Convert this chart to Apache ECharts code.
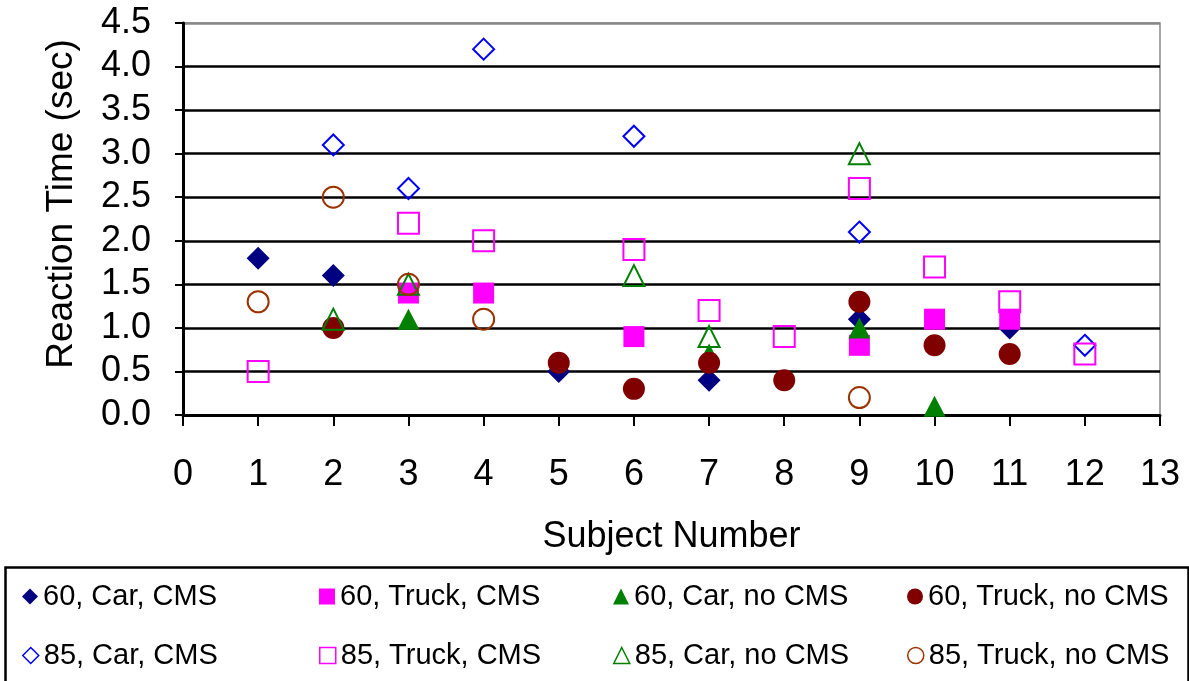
<!DOCTYPE html>
<html>
<head>
<meta charset="utf-8">
<script src="https://cdn.jsdelivr.net/npm/echarts@6/dist/echarts.min.js"></script>
<style>
html,body{margin:0;padding:0;background:#fff;}
#chart{width:1189px;height:681px;}
</style>
</head>
<body>
<div id="chart"></div>
<script>
// ---- data ----
const subjects = [1,2,3,4,5,6,7,8,9,10,11,12];
const seriesNames = ['60, Car, CMS','60, Truck, CMS','60, Car, no CMS','60, Truck, no CMS',
                     '85, Car, CMS','85, Truck, CMS','85, Car, no CMS','85, Truck, no CMS'];
const s60CarCMS     = [1.8,1.6,null,null,0.5,null,0.4,null,1.1,null,1.0,null];
const s60TruckCMS   = [null,null,1.4,1.4,null,0.9,null,null,0.8,1.1,1.1,null];
const s60CarNoCMS   = [null,null,1.1,null,null,null,0.7,null,1.0,0.1,null,null];
const s60TruckNoCMS = [null,1.0,null,null,0.6,0.3,0.6,0.4,1.3,0.8,0.7,null];
const s85CarCMS     = [null,3.1,2.6,4.2,null,3.2,null,null,2.1,null,null,0.8];
const s85TruckCMS   = [0.5,null,2.2,2.0,null,1.9,1.2,0.9,2.6,1.7,1.3,0.7];
const s85CarNoCMS   = [null,1.1,1.5,null,null,1.6,0.9,null,3.0,null,null,null];
const s85TruckNoCMS = [1.3,2.5,1.5,1.1,null,null,null,null,0.2,null,null,null];
const xTicks = [0,1,2,3,4,5,6,7,8,9,10,11,12,13];
const yTicks = [0,0.5,1,1.5,2,2.5,3,3.5,4,4.5];

const allValues = [s60CarCMS,s60TruckCMS,s60CarNoCMS,s60TruckNoCMS,s85CarCMS,s85TruckCMS,s85CarNoCMS,s85TruckNoCMS];

// ---- styles ----
const FONT = "'Liberation Sans', Arial, sans-serif";
const styles = [
  {symbol:'diamond', fill:'#000080', stroke:null},
  {symbol:'rect', fill:'#FF00FF', stroke:null},
  {symbol:'triangle', fill:'#008000', stroke:null},
  {symbol:'circle', fill:'#800000', stroke:null},
  {symbol:'diamond', fill:null, stroke:'#0000FF'},
  {symbol:'rect', fill:null, stroke:'#FF00FF'},
  {symbol:'triangle', fill:null, stroke:'#008000'},
  {symbol:'circle', fill:null, stroke:'#993300'}
];
const sizes = {diamond:[23,23], rect:[21,21], triangle:[22,21], circle:[22,22]};
const openSizes = {diamond:[21,21], rect:[21,21], triangle:[21,21], circle:[21,21]};

function itemStyleFor(st, bw){
  return st.fill ? {color: st.fill, borderWidth:0, opacity:1}
                 : {color:'rgba(255,255,255,0)', borderColor: st.stroke, borderWidth: bw, opacity:1};
}

const series = allValues.map((vals, i) => {
  const st = styles[i];
  return {
    name: seriesNames[i],
    type: 'scatter',
    symbol: st.symbol,
    symbolSize: st.fill ? sizes[st.symbol] : openSizes[st.symbol],
    itemStyle: itemStyleFor(st, 2),
    emphasis: {disabled: true},
    z: 2 + i,
    data: subjects.map((s, k) => [s, vals[k]]).filter(d => d[1] !== null)
  };
});

const colLeft = [22, 319, 613, 907];
const rowTop = [582, 641];
const legends = seriesNames.map((n, i) => {
  const st = styles[i];
  return {
    left: colLeft[i % 4],
    top: rowTop[Math.floor(i / 4)],
    padding: 0,
    itemWidth: 16, itemHeight: 16,
    selectedMode: false,
    textStyle: {fontFamily: FONT, fontSize: 29, color: '#000'},
    data: [{name: n, icon: st.symbol, itemStyle: itemStyleFor(st, 1.5)}]
  };
});

const chart = echarts.init(document.getElementById('chart'), null, {renderer:'canvas'});
chart.setOption({
  animation: false,
  backgroundColor: '#fff',
  grid: {left:183, right:29, top:23, bottom:266, show:true, borderColor:'#888', borderWidth:1.5, backgroundColor:'#fff'},
  xAxis: {
    type:'value', min: xTicks[0], max: xTicks[xTicks.length-1], interval: 1,
    name: 'Subject Number', nameLocation:'middle', nameGap: 104,
    nameTextStyle: {fontFamily: FONT, fontSize: 36, color:'#000'},
    axisLine: {show:true, onZero:false, lineStyle:{color:'#000', width:3}},
    axisTick: {show:true, inside:false, length:11, lineStyle:{color:'#000', width:2}},
    axisLabel: {fontFamily: FONT, fontSize: 36, color:'#000', margin: 42},
    splitLine: {show:false}
  },
  yAxis: {
    type:'value', min: yTicks[0], max: yTicks[yTicks.length-1], interval: 0.5,
    name: 'Reaction Time (sec)', nameLocation:'middle', nameGap: 103,
    nameTextStyle: {fontFamily: FONT, fontSize: 37, color:'#000', padding:[0,0,0,30]},
    axisLine: {show:true, onZero:false, lineStyle:{color:'#000', width:3}},
    axisTick: {show:true, inside:false, length:8, lineStyle:{color:'#000', width:2}},
    axisLabel: {fontFamily: FONT, fontSize: 36, color:'#000', margin: 32, formatter: v => v.toFixed(1)},
    splitLine: {show:true, lineStyle:{color:['#000','#000','#000','#000','#000','#000','#000','#000','#000','#888'], width:2.5}}
  },
  legend: legends,
  graphic: [{
    type:'rect', left: 3, top: 565, z: 0,
    shape: {width: 1183, height: 118},
    style: {fill: 'none', stroke: '#000', lineWidth: 2.5}
  }],
  series: series
});
</script>
</body>
</html>
